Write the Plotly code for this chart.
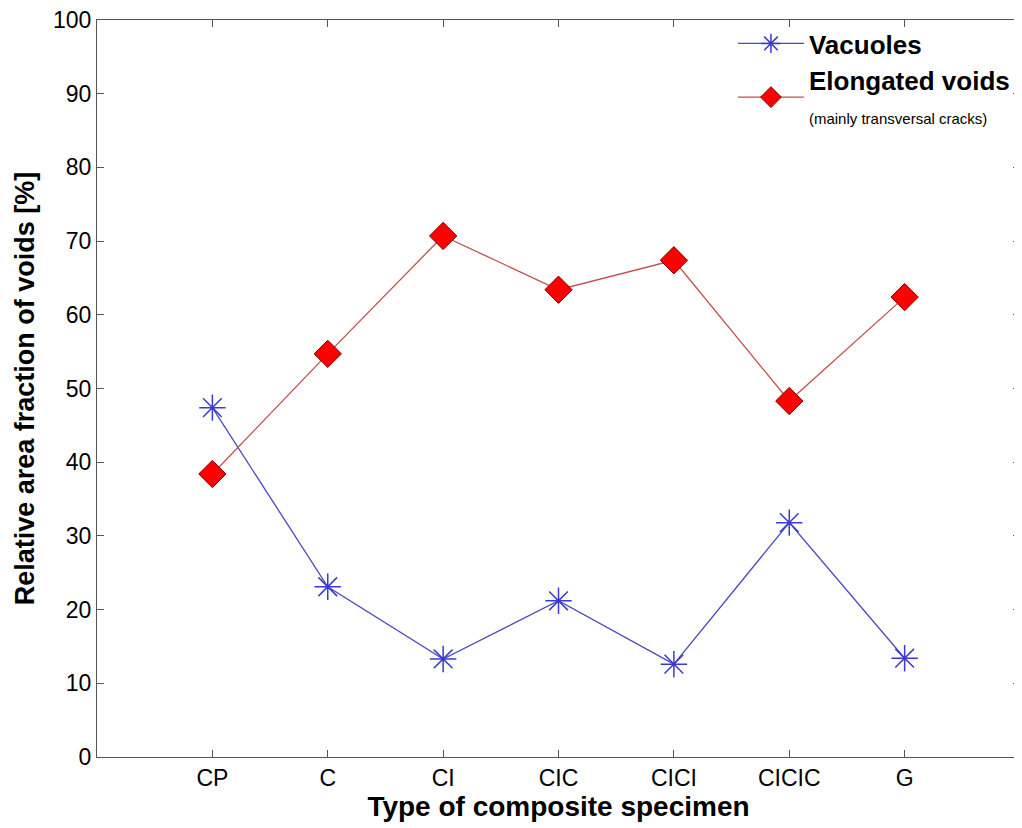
import plotly.graph_objects as go

categories = ["CP", "C", "CI", "CIC", "CICI", "CICIC", "G"]
x_pos = [1, 2, 3, 4, 5, 6, 7]
vacuoles = [47.4, 23.1, 13.3, 21.2, 12.6, 31.8, 13.4]
elongated = [38.4, 54.7, 70.7, 63.4, 67.4, 48.3, 62.4]
y_ticks = [0, 10, 20, 30, 40, 50, 60, 70, 80, 90, 100]

font_fam = "Liberation Sans, Arial, sans-serif"

fig = go.Figure()
fig.add_trace(go.Scatter(
    x=x_pos, y=vacuoles, mode="lines+markers", name="<b>Vacuoles</b>",
    line=dict(color="#4a4ac0", width=1.3),
    marker=dict(symbol="asterisk-open", size=22, color="#3a3ad0",
                line=dict(color="#3a3ad0", width=1.5)),
))
fig.add_trace(go.Scatter(
    x=x_pos, y=elongated, mode="lines+markers",
    name="<b>Elongated voids</b><br><span style='font-size:15px'>(mainly transversal cracks)</span>",
    line=dict(color="#c05050", width=1.3),
    marker=dict(symbol="diamond", size=21, color="#ff0000",
                line=dict(color="#7a0000", width=1)),
))

axis_common = dict(
    showline=True, linecolor="#555555", linewidth=1.3, mirror="ticks",
    ticks="inside", ticklen=7, tickcolor="#555555", showgrid=False, zeroline=False,
    tickfont=dict(family=font_fam, size=23, color="black"),
    ticklabeloverflow="allow", automargin=False,
)

fig.update_layout(
    width=1022, height=828,
    margin=dict(l=89, r=10, t=12, b=79),
    paper_bgcolor="white", plot_bgcolor="white",
    font=dict(family=font_fam, color="black"),
    xaxis=dict(range=[0, 8], tickmode="array", tickvals=x_pos, ticktext=categories,
               title=dict(text="<b>Type of composite specimen</b>",
                          font=dict(family=font_fam, size=28), standoff=6),
               **axis_common),
    yaxis=dict(range=[0, 100], tickmode="array", tickvals=y_ticks,
               title=dict(text="<b>Relative area fraction of voids [%]</b>",
                          font=dict(family=font_fam, size=27), standoff=10),
               **axis_common),
    legend=dict(x=0.689, y=1.0, xanchor="left", yanchor="top",
                bgcolor="rgba(255,255,255,0)", borderwidth=0,
                font=dict(family=font_fam, size=26, color="black"),
                itemwidth=66, tracegroupgap=0, itemsizing="trace"),
    showlegend=True,
)

fig.write_html("out.html")
